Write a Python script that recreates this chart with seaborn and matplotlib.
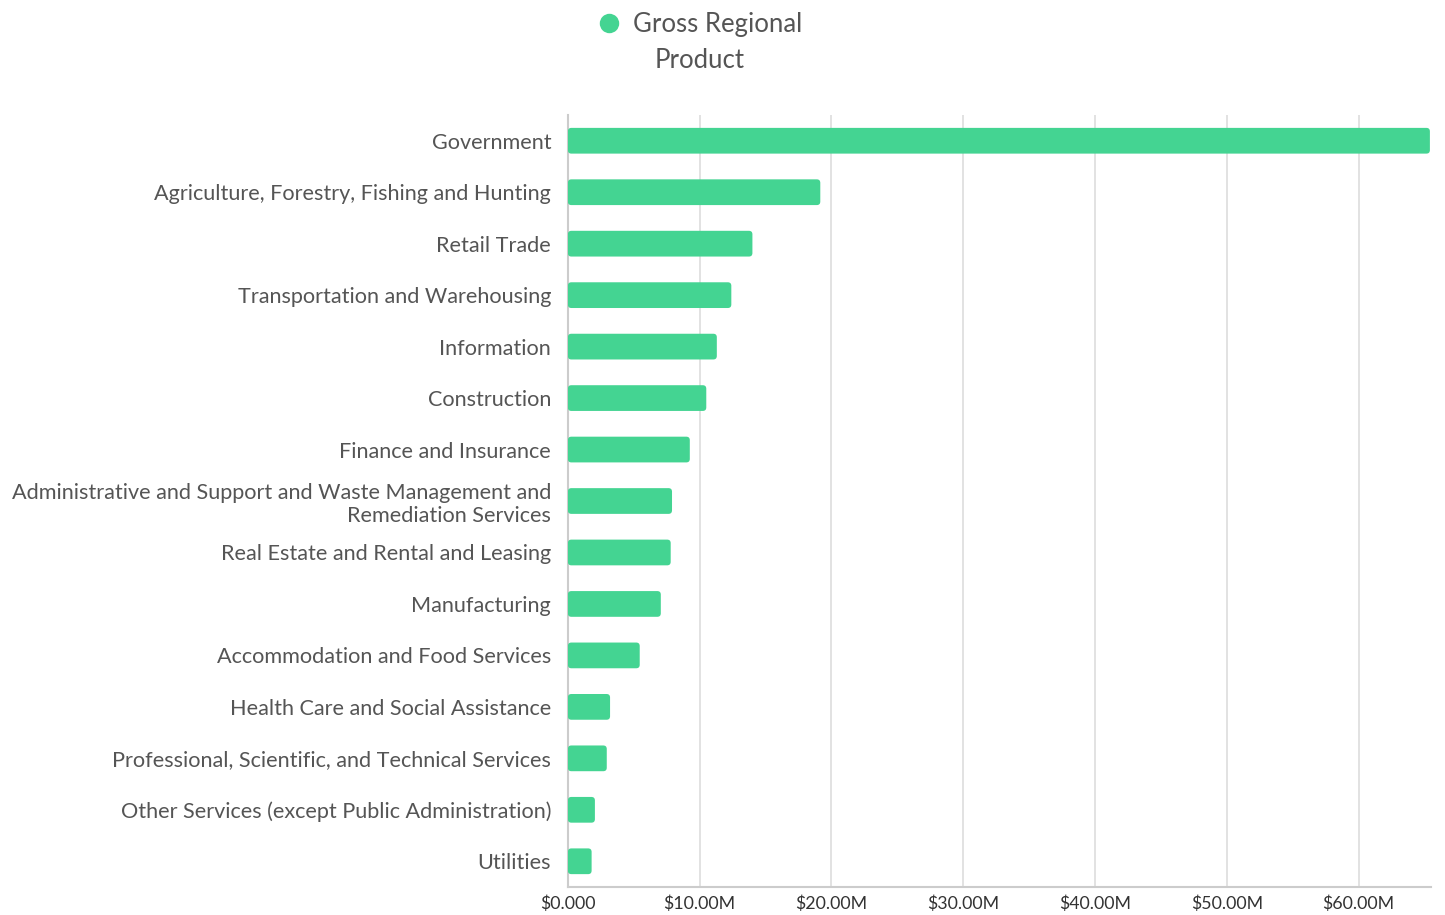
import numpy as np
import pandas as pd
import matplotlib
matplotlib.use("Agg")
import matplotlib.pyplot as plt
import seaborn as sb
from matplotlib.patches import FancyBboxPatch
from matplotlib.ticker import FuncFormatter, MultipleLocator

#%% Data (values in $M)

industries = [
    "Government",
    "Agriculture, Forestry, Fishing and Hunting",
    "Retail Trade",
    "Transportation and Warehousing",
    "Information",
    "Construction",
    "Finance and Insurance",
    "Administrative and Support and Waste Management and\nRemediation Services",
    "Real Estate and Rental and Leasing",
    "Manufacturing",
    "Accommodation and Food Services",
    "Health Care and Social Assistance",
    "Professional, Scientific, and Technical Services",
    "Other Services (except Public Administration)",
    "Utilities",
]
grp = [65.4, 19.15, 14.0, 12.4, 11.3, 10.5, 9.25, 7.9, 7.8, 7.05, 5.45, 3.2, 2.95, 2.05, 1.8]
series_name = "Gross Regional Product"

df = pd.DataFrame({"industry": industries, "value": grp, "series": series_name})

#%% Style

bar_col = "#44d492"
txt_col = "#555555"
grid_col = "#dddddd"

sb.set_style("white")
plt.rcParams["font.family"] = ["Lato", "DejaVu Sans"]

fig = plt.figure(figsize=(14.45, 9.15), dpi=100)
ax = fig.add_axes([0.393, 0.0306, 0.597, 0.8437])

sb.barplot(data=df, y="industry", x="value", hue="series", palette=[bar_col],
           width=0.5, orient="h", ax=ax, legend=False)

# rounded bar corners
px_x = 65.4 / 863.0
px_y = 1.0 / 51.5
for p in list(ax.patches):
    x0, y0 = p.get_x(), p.get_y()
    w, h = p.get_width(), p.get_height()
    r = FancyBboxPatch((x0, y0), w, h,
                       boxstyle=f"round,pad=0,rounding_size={3.5*px_x}",
                       mutation_aspect=px_y / px_x,
                       facecolor=bar_col, edgecolor="none", zorder=3)
    p.remove()
    ax.add_patch(r)

ax.set_xlim(0, 65.45)
ax.set_ylim(len(industries) - 0.5, -0.5)
ax.xaxis.set_major_locator(MultipleLocator(10))
ax.xaxis.set_major_formatter(FuncFormatter(lambda v, _: "$0.000" if v == 0 else f"${v:.2f}M"))
ax.grid(axis="x", color=grid_col, linewidth=1.2, zorder=0)
ax.set_axisbelow(True)

for s in ["top", "right"]:
    ax.spines[s].set_visible(False)
for s in ["left", "bottom"]:
    ax.spines[s].set_color("#cccccc")
    ax.spines[s].set_linewidth(1.5)

ax.set_xlabel("")
ax.set_ylabel("")
ax.tick_params(axis="y", length=0, pad=12, labelsize=15.6, labelcolor=txt_col)
ax.tick_params(axis="x", length=0, pad=6, labelsize=12.8, labelcolor="#333333")
for t in ax.get_yticklabels():
    t.set_linespacing(1.2)

# legend: series name wraps onto two lines, second line drawn below
first, second = series_name.rsplit(" ", 1)
h = [plt.Line2D([], [], marker="o", linestyle="", markersize=14,
                markerfacecolor=bar_col, markeredgecolor="none")]
leg = fig.legend(h, [first], loc="upper left", bbox_to_anchor=(576 / 1445, 1.012),
                 frameon=False, fontsize=18.5, handlelength=0.8, handletextpad=0.5,
                 labelcolor=txt_col)
fig.text(700 / 1445, 1 - 60 / 915, second, ha="center", va="center",
         fontsize=18.5, color=txt_col)

fig.savefig("out.png", dpi=100)
